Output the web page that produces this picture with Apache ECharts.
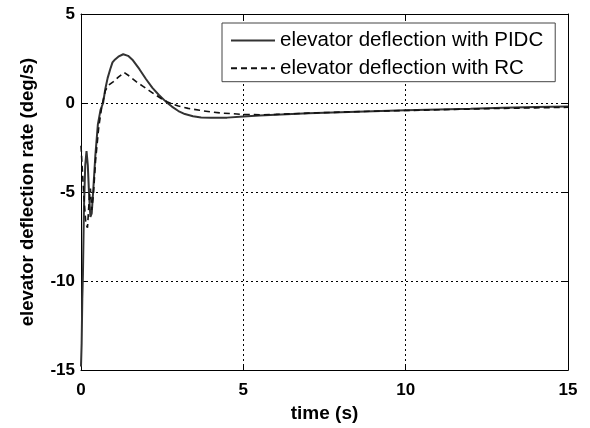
<!DOCTYPE html>
<html>
<head>
<meta charset="utf-8">
<script src="https://cdn.jsdelivr.net/npm/echarts@6/dist/echarts.min.js"></script>
<style>
  html, body { margin: 0; padding: 0; background: #fff; }
  #chart { width: 590px; height: 428px; }
</style>
</head>
<body>
<div id="chart"></div>
<script>
// Elevator deflection rate response, PIDC vs RC controller
const seriesNames = ['elevator deflection with PIDC', 'elevator deflection with RC'];

const timePIDC = [0, 0.02, 0.04, 0.06, 0.09, 0.13, 0.17, 0.21, 0.25, 0.29, 0.33, 0.38, 0.44, 0.52, 0.6, 0.68, 0.75, 0.82, 0.9, 0.97, 1.05, 1.15, 1.3, 1.45, 1.6, 1.8, 2.0, 2.2, 2.4, 2.63, 2.8, 3.0, 3.2, 3.45, 3.7, 4.0, 4.5, 5.0, 5.5, 6, 7, 8, 9, 10, 11, 12, 13, 14, 15];
const ratePIDC = [-14.8, -13.5, -11, -9.6, -6, -3.5, -2.7, -3.5, -5.2, -6.4, -6.2, -4.8, -3.0, -1.2, -0.4, 0.0, 0.8, 1.4, 1.9, 2.28, 2.45, 2.6, 2.74, 2.65, 2.4, 1.9, 1.35, 0.85, 0.45, 0.05, -0.2, -0.45, -0.62, -0.74, -0.81, -0.83, -0.82, -0.75, -0.7, -0.66, -0.58, -0.52, -0.46, -0.41, -0.36, -0.32, -0.27, -0.23, -0.19];

const timeRC = [0, 0.08, 0.15, 0.2, 0.25, 0.29, 0.33, 0.38, 0.45, 0.55, 0.65, 0.75, 0.85, 1.0, 1.15, 1.33, 1.5, 1.7, 1.9, 2.1, 2.3, 2.5, 2.65, 2.8, 3.0, 3.3, 3.66, 4.0, 4.3, 4.67, 5.0, 5.5, 6, 7, 8, 9, 10, 11, 12, 13, 14, 15];
const rateRC = [-2.4, -5, -6.8, -7.0, -5.5, -4.8, -6.0, -5.2, -3.2, -1.3, -0.1, 0.7, 1.0, 1.2, 1.45, 1.72, 1.5, 1.2, 0.95, 0.7, 0.45, 0.22, 0.08, -0.05, -0.17, -0.3, -0.41, -0.5, -0.56, -0.6, -0.64, -0.66, -0.64, -0.57, -0.51, -0.46, -0.42, -0.38, -0.34, -0.3, -0.27, -0.24];

const xTicks = [0, 5, 10, 15];
const yTicks = [-15, -10, -5, 0, 5];

const pairs = (xs, ys) => xs.map((x, i) => [x, ys[i]]);

const font = 'Liberation Sans, Arial, sans-serif';
const gridLine = { show: true, lineStyle: { color: '#000', width: 1, type: [2, 3] } };
const tick = { show: true, inside: true, length: 5, lineStyle: { color: '#000' } };
const frameLine = { show: true, onZero: false, lineStyle: { color: '#000' } };

const chart = echarts.init(document.getElementById('chart'), null, { renderer: 'canvas' });
chart.setOption({
  animation: false,
  backgroundColor: '#fff',
  grid: { left: 81, right: 22, top: 14, bottom: 54 },
  legend: {
    orient: 'vertical',
    left: 222, top: 23,
    padding: [7, 12, 3, 8],
    itemGap: 6.7,
    itemWidth: 44, itemHeight: 20,
    borderColor: '#444', borderWidth: 1,
    backgroundColor: '#fff',
    itemStyle: { opacity: 0 },
    textStyle: { fontFamily: font, fontSize: 20.5, color: '#000', lineHeight: 20 },
    data: seriesNames
  },
  xAxis: [{
    type: 'value', min: xTicks[0], max: xTicks[xTicks.length - 1], interval: 5,
    name: 'time (s)', nameLocation: 'middle', nameGap: 31,
    nameTextStyle: { fontFamily: font, fontSize: 19, fontWeight: 'bold', color: '#000' },
    axisLine: frameLine,
    axisTick: tick,
    axisLabel: { fontFamily: font, fontSize: 17, fontWeight: 'bold', color: '#000', margin: 12 },
    splitLine: gridLine
  }, {
    type: 'value', position: 'top', min: xTicks[0], max: xTicks[xTicks.length - 1], interval: 5,
    axisLine: frameLine,
    axisTick: tick, axisLabel: { show: false }, splitLine: { show: false }
  }],
  yAxis: [{
    type: 'value', min: yTicks[0], max: yTicks[yTicks.length - 1], interval: 5,
    name: 'elevator deflection rate (deg/s)', nameLocation: 'middle', nameGap: 44,
    nameTextStyle: { fontFamily: font, fontSize: 18.5, fontWeight: 'bold', color: '#000' },
    axisLine: frameLine,
    axisTick: tick,
    axisLabel: { fontFamily: font, fontSize: 17, fontWeight: 'bold', color: '#000', margin: 6 },
    splitLine: gridLine
  }, {
    type: 'value', position: 'right', min: yTicks[0], max: yTicks[yTicks.length - 1], interval: 5,
    axisLine: frameLine,
    axisTick: tick, axisLabel: { show: false }, splitLine: { show: false }
  }],
  series: [{
    name: seriesNames[0], type: 'line', showSymbol: false, symbol: 'none',
    data: pairs(timePIDC, ratePIDC),
    lineStyle: { color: '#333', width: 2, type: 'solid' },
    itemStyle: { color: '#333' }
  }, {
    name: seriesNames[1], type: 'line', showSymbol: false, symbol: 'none',
    data: pairs(timeRC, rateRC),
    lineStyle: { color: '#111', width: 1.6, type: [6, 4] },
    itemStyle: { color: '#111' }
  }]
});
</script>
</body>
</html>
